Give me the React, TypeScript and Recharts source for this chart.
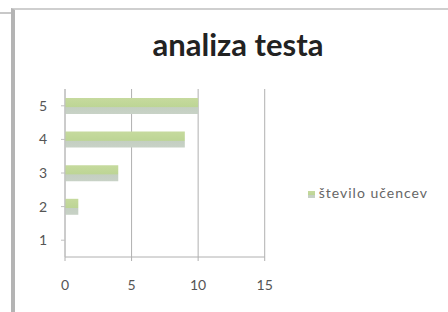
import { BarChart, Bar, XAxis, YAxis, CartesianGrid, Legend } from 'recharts';

const grades = ['1', '2', '3', '4', '5'];
const students = [0, 1, 4, 9, 10];
const xTicks = [0, 5, 10, 15];

const data = grades.map((g, i) => ({ name: g, value: students[i] }));

export default function App() {
  return (
    <div style={{ position: 'absolute', left: 0, top: 0, width: 448, height: 312, background: '#fff', overflow: 'hidden' }}>
      <div style={{ position: 'absolute', left: 0, top: 12, width: 12, height: 2, background: '#c8c8c8' }} />
      <div style={{ position: 'absolute', left: 11, top: 8, width: 437, height: 320, borderLeft: '4px solid #b4b4b4', borderTop: '2px solid #cfcfcf' }} />
      <div
        style={{
          position: 'absolute',
          left: 0,
          top: 26,
          width: 476,
          textAlign: 'center',
          fontFamily: 'Lato, sans-serif',
          fontWeight: 700,
          fontSize: 31,
          lineHeight: '36px',
          color: '#222',
        }}
      >
        analiza testa
      </div>
      <div style={{ position: 'absolute', left: 0, top: 0 }}>
        <BarChart
          width={448}
          height={312}
          layout="vertical"
          data={data}
          margin={{ top: 89, right: 53, bottom: 25, left: 27 }}
          style={{ fontFamily: 'Lato, sans-serif' }}
        >
          <defs>
            <linearGradient id="barFill" x1="0" y1="0" x2="0" y2="1">
              <stop offset="0%" stopColor="#c6da9e" />
              <stop offset="55%" stopColor="#bdd595" />
              <stop offset="60%" stopColor="#c4cfc2" />
              <stop offset="100%" stopColor="#c8d2c6" />
            </linearGradient>
          </defs>
          <CartesianGrid horizontal={false} stroke="#b0b0b0" />
          <XAxis
            type="number"
            domain={[0, 15]}
            ticks={xTicks}
            tick={{ fontSize: 14, fill: '#555' }}
            axisLine={{ stroke: '#b0b0b0' }}
            tickLine={{ stroke: '#b0b0b0' }}
            tickSize={4}
            tickMargin={19}
          />
          <YAxis
            type="category"
            dataKey="name"
            reversed
            width={38}
            tick={{ fontSize: 14, fill: '#555' }}
            axisLine={{ stroke: '#c0c0c0' }}
            tickLine={{ stroke: '#c0c0c0' }}
            tickSize={4}
            tickMargin={14}
          />
          <Legend
            layout="vertical"
            align="right"
            verticalAlign="middle"
            iconType="square"
            iconSize={7}
            wrapperStyle={{ right: 10, top: 184, fontSize: 14, letterSpacing: 1, color: '#666' }}
            formatter={(v) => <span style={{ color: '#666' }}>{v}</span>}
          />
          <Bar
            dataKey="value"
            name="število učencev"
            fill="url(#barFill)"
            barSize={16}
            legendType="square"
            isAnimationActive={false}
          />
        </BarChart>
      </div>
    </div>
  );
}
